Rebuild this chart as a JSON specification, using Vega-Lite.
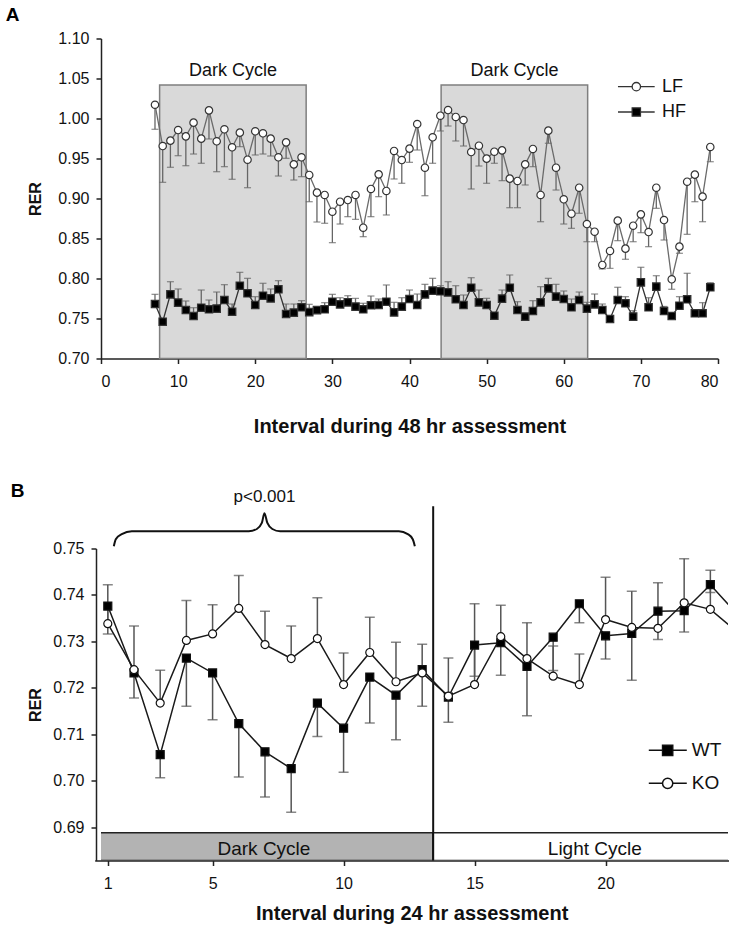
{
 "$schema": "https://vega.github.io/schema/vega-lite/v6.json",
 "background": "white",
 "padding": {"left": 5, "top": 5.5, "right": 0, "bottom": 5},
 "spacing": 45,
 "resolve": {"scale": {"fill": "independent", "shape": "independent", "color": "independent", "x": "independent", "y": "independent"}},
 "config": {
  "view": {"stroke": null},
  "font": "Liberation Sans",
  "axis": {"grid": false, "domainColor": "#222", "domainWidth": 1.5, "tickColor": "#222", "tickWidth": 1.5, "tickSize": 5, "labelFont": "Liberation Sans", "labelFontSize": 16, "labelColor": "#111", "labelPadding": 7, "titleFont": "Liberation Sans", "titleFontSize": 16, "titleFontWeight": "bold", "titleColor": "#111"},
  "axisX": {"labelPadding": 10, "titleFontSize": 20}
 },
 "datasets": {
  "Abox": [
   {"start": 7.6, "end": 26.6, "mid": 17.1, "bottom": 0.7, "top": 1.042, "label": "Dark Cycle"},
   {"start": 44.1, "end": 63.1, "mid": 53.6, "bottom": 0.7, "top": 1.042, "label": "Dark Cycle"}
  ],
  "A": [
   {"i":7,"series":"LF","rer":1.0172,"err":0.9865},{"i":8,"series":"LF","rer":0.9656,"err":0.9202},{"i":9,"series":"LF","rer":0.9723,"err":0.939},{"i":10,"series":"LF","rer":0.9856,"err":0.9535},{"i":11,"series":"LF","rer":0.9777,"err":0.941},{"i":12,"series":"LF","rer":0.9948,"err":0.9556},{"i":13,"series":"LF","rer":0.9748,"err":0.944},{"i":14,"series":"LF","rer":1.0102,"err":0.9744},{"i":15,"series":"LF","rer":0.9715,"err":0.9335},{"i":16,"series":"LF","rer":0.9865,"err":0.9398},{"i":17,"series":"LF","rer":0.964,"err":0.924},{"i":18,"series":"LF","rer":0.9823,"err":0.9648},{"i":19,"series":"LF","rer":0.9485,"err":0.9135},{"i":20,"series":"LF","rer":0.984,"err":0.9544},{"i":21,"series":"LF","rer":0.9815,"err":0.9556},{"i":22,"series":"LF","rer":0.9748,"err":0.9531},{"i":23,"series":"LF","rer":0.9515,"err":0.9281},{"i":24,"series":"LF","rer":0.9702,"err":0.9502},{"i":25,"series":"LF","rer":0.9427,"err":0.9231},{"i":26,"series":"LF","rer":0.9515,"err":0.9273},{"i":27,"series":"LF","rer":0.9294,"err":0.896},{"i":28,"series":"LF","rer":0.9073,"err":0.8706},{"i":29,"series":"LF","rer":0.9044,"err":0.869},{"i":30,"series":"LF","rer":0.8835,"err":0.8448},{"i":31,"series":"LF","rer":0.896,"err":0.8681},{"i":32,"series":"LF","rer":0.8981,"err":0.8773},{"i":33,"series":"LF","rer":0.9044,"err":0.874},{"i":34,"series":"LF","rer":0.8635,"err":0.8523},{"i":35,"series":"LF","rer":0.9119,"err":0.8773},{"i":36,"series":"LF","rer":0.9302,"err":0.9023},{"i":37,"series":"LF","rer":0.9094,"err":0.8794},{"i":38,"series":"LF","rer":0.9594,"err":0.9244},{"i":39,"series":"LF","rer":0.9481,"err":0.919},{"i":40,"series":"LF","rer":0.9623,"err":0.9452},{"i":41,"series":"LF","rer":0.9931,"err":0.9606},{"i":42,"series":"LF","rer":0.9385,"err":0.9035},{"i":43,"series":"LF","rer":0.9765,"err":0.944},{"i":44,"series":"LF","rer":1.0035,"err":0.9844},{"i":45,"series":"LF","rer":1.0106,"err":0.9906},{"i":46,"series":"LF","rer":1.0019,"err":0.9719},{"i":47,"series":"LF","rer":0.9981,"err":0.9656},{"i":48,"series":"LF","rer":0.9581,"err":0.9119},{"i":49,"series":"LF","rer":0.966,"err":0.9406},{"i":50,"series":"LF","rer":0.9498,"err":0.919},{"i":51,"series":"LF","rer":0.9585,"err":0.944},{"i":52,"series":"LF","rer":0.9602,"err":0.9223},{"i":53,"series":"LF","rer":0.9248,"err":0.8885},{"i":54,"series":"LF","rer":0.9219,"err":0.8885},{"i":55,"series":"LF","rer":0.9427,"err":0.9169},{"i":56,"series":"LF","rer":0.9619,"err":0.9398},{"i":57,"series":"LF","rer":0.9044,"err":0.871},{"i":58,"series":"LF","rer":0.9848,"err":0.969},{"i":59,"series":"LF","rer":0.9385,"err":0.9106},{"i":60,"series":"LF","rer":0.899,"err":0.8681},{"i":61,"series":"LF","rer":0.881,"err":0.8627},{"i":62,"series":"LF","rer":0.9135,"err":0.8815},{"i":63,"series":"LF","rer":0.8681,"err":0.846},{"i":64,"series":"LF","rer":0.8585,"err":0.846},{"i":65,"series":"LF","rer":0.8169,"err":0.812},{"i":66,"series":"LF","rer":0.8344,"err":0.8127},{"i":67,"series":"LF","rer":0.8723,"err":0.8473},{"i":68,"series":"LF","rer":0.8373,"err":0.824},{"i":69,"series":"LF","rer":0.866,"err":0.846},{"i":70,"series":"LF","rer":0.8802,"err":0.8573},{"i":71,"series":"LF","rer":0.8581,"err":0.8398},{"i":72,"series":"LF","rer":0.9135,"err":0.8877},{"i":73,"series":"LF","rer":0.8731,"err":0.8481},{"i":74,"series":"LF","rer":0.799,"err":0.7865},{"i":75,"series":"LF","rer":0.8398,"err":0.8315},{"i":76,"series":"LF","rer":0.921,"err":0.8552},{"i":77,"series":"LF","rer":0.9298,"err":0.896},{"i":78,"series":"LF","rer":0.9023,"err":0.871},{"i":79,"series":"LF","rer":0.9644,"err":0.946},
   {"i":7,"series":"HF","rer":0.7681,"err":0.7802},{"i":8,"series":"HF","rer":0.746,"err":0.748},{"i":9,"series":"HF","rer":0.7802,"err":0.796},{"i":10,"series":"HF","rer":0.7698,"err":0.7869},{"i":11,"series":"HF","rer":0.7606,"err":0.7719},{"i":12,"series":"HF","rer":0.7531,"err":0.7635},{"i":13,"series":"HF","rer":0.7635,"err":0.7856},{"i":14,"series":"HF","rer":0.7615,"err":0.7731},{"i":15,"series":"HF","rer":0.7623,"err":0.7831},{"i":16,"series":"HF","rer":0.7731,"err":0.7923},{"i":17,"series":"HF","rer":0.7585,"err":0.7681},{"i":18,"series":"HF","rer":0.791,"err":0.8077},{"i":19,"series":"HF","rer":0.7815,"err":0.8002},{"i":20,"series":"HF","rer":0.7669,"err":0.7773},{"i":21,"series":"HF","rer":0.7785,"err":0.794},{"i":22,"series":"HF","rer":0.7752,"err":0.7869},{"i":23,"series":"HF","rer":0.7865,"err":0.7973},{"i":24,"series":"HF","rer":0.7556,"err":0.7681},{"i":25,"series":"HF","rer":0.7573,"err":0.7681},{"i":26,"series":"HF","rer":0.764,"err":0.7723},{"i":27,"series":"HF","rer":0.7579,"err":0.7677},{"i":28,"series":"HF","rer":0.7604,"err":0.762},{"i":29,"series":"HF","rer":0.7615,"err":0.7698},{"i":30,"series":"HF","rer":0.771,"err":0.7802},{"i":31,"series":"HF","rer":0.7677,"err":0.776},{"i":32,"series":"HF","rer":0.7702,"err":0.7785},{"i":33,"series":"HF","rer":0.7648,"err":0.7752},{"i":34,"series":"HF","rer":0.7615,"err":0.769},{"i":35,"series":"HF","rer":0.7665,"err":0.7781},{"i":36,"series":"HF","rer":0.7669,"err":0.7744},{"i":37,"series":"HF","rer":0.771,"err":0.7919},{"i":38,"series":"HF","rer":0.7577,"err":0.7702},{"i":39,"series":"HF","rer":0.7648,"err":0.776},{"i":40,"series":"HF","rer":0.7744,"err":0.7856},{"i":41,"series":"HF","rer":0.7669,"err":0.7806},{"i":42,"series":"HF","rer":0.7802,"err":0.7927},{"i":43,"series":"HF","rer":0.7848,"err":0.8002},{"i":44,"series":"HF","rer":0.784,"err":0.791},{"i":45,"series":"HF","rer":0.7827,"err":0.796},{"i":46,"series":"HF","rer":0.774,"err":0.791},{"i":47,"series":"HF","rer":0.7669,"err":0.7794},{"i":48,"series":"HF","rer":0.7885,"err":0.801},{"i":49,"series":"HF","rer":0.7702,"err":0.7856},{"i":50,"series":"HF","rer":0.7669,"err":0.7752},{"i":51,"series":"HF","rer":0.7535,"err":0.756},{"i":52,"series":"HF","rer":0.7748,"err":0.7856},{"i":53,"series":"HF","rer":0.7885,"err":0.8044},{"i":54,"series":"HF","rer":0.7606,"err":0.771},{"i":55,"series":"HF","rer":0.7523,"err":0.7545},{"i":56,"series":"HF","rer":0.7594,"err":0.7723},{"i":57,"series":"HF","rer":0.7702,"err":0.7898},{"i":58,"series":"HF","rer":0.7877,"err":0.8002},{"i":59,"series":"HF","rer":0.7773,"err":0.7927},{"i":60,"series":"HF","rer":0.7744,"err":0.7844},{"i":61,"series":"HF","rer":0.764,"err":0.7744},{"i":62,"series":"HF","rer":0.7731,"err":0.7831},{"i":63,"series":"HF","rer":0.7623,"err":0.7702},{"i":64,"series":"HF","rer":0.7677,"err":0.7806},{"i":65,"series":"HF","rer":0.7606,"err":0.7681},{"i":66,"series":"HF","rer":0.7494,"err":0.752},{"i":67,"series":"HF","rer":0.7731,"err":0.789},{"i":68,"series":"HF","rer":0.769,"err":0.7773},{"i":69,"series":"HF","rer":0.7523,"err":0.7598},{"i":70,"series":"HF","rer":0.7952,"err":0.814},{"i":71,"series":"HF","rer":0.764,"err":0.776},{"i":72,"series":"HF","rer":0.7898,"err":0.8035},{"i":73,"series":"HF","rer":0.7594,"err":0.765},{"i":74,"series":"HF","rer":0.7531,"err":0.756},{"i":75,"series":"HF","rer":0.766,"err":0.7773},{"i":76,"series":"HF","rer":0.774,"err":0.8065},{"i":77,"series":"HF","rer":0.7565,"err":0.759},{"i":78,"series":"HF","rer":0.7565,"err":0.7698},{"i":79,"series":"HF","rer":0.789,"err":0.7948}
  ],
  "Bcyc": [
   {"start": 0.5, "end": 13.42, "mid": 6.96, "bottom": 0.6828, "top": 0.6888, "label": "Dark Cycle"},
   {"start": 13.42, "end": 25.76, "mid": 19.59, "bottom": 0.6828, "top": 0.6888, "label": "Light Cycle"}
  ],
  "brace": [
   {"k":1,"x":1.229,"y":0.7505},{"k":2,"x":1.305,"y":0.752},{"k":3,"x":1.534,"y":0.7531},{"k":4,"x":1.916,"y":0.7537},{"k":5,"x":6.38,"y":0.7537},{"k":6,"x":6.69,"y":0.7542},{"k":7,"x":6.88,"y":0.7555},{"k":8,"x":6.98,"y":0.7576},{"k":9,"x":7.09,"y":0.7555},{"k":10,"x":7.28,"y":0.7542},{"k":11,"x":7.58,"y":0.7537},{"k":12,"x":12.11,"y":0.7537},{"k":13,"x":12.45,"y":0.7531},{"k":14,"x":12.64,"y":0.752},{"k":15,"x":12.72,"y":0.7505}
  ],
  "B": [
   {"i":1,"series":"WT","rer":0.7376,"err":0.7316},{"i":2,"series":"WT","rer":0.7232,"err":0.7178},{"i":3,"series":"WT","rer":0.7056,"err":0.7006},{"i":4,"series":"WT","rer":0.7264,"err":0.716},{"i":5,"series":"WT","rer":0.7232,"err":0.7131},{"i":6,"series":"WT","rer":0.7123,"err":0.7008},{"i":7,"series":"WT","rer":0.7062,"err":0.6965},{"i":8,"series":"WT","rer":0.7026,"err":0.6932},{"i":9,"series":"WT","rer":0.7167,"err":0.7095},{"i":10,"series":"WT","rer":0.7113,"err":0.7018},{"i":11,"series":"WT","rer":0.7223,"err":0.7124},{"i":12,"series":"WT","rer":0.7184,"err":0.7088},{"i":13,"series":"WT","rer":0.7239,"err":0.716},{"i":14,"series":"WT","rer":0.718,"err":0.7126},{"i":15,"series":"WT","rer":0.7292,"err":0.7225},{"i":16,"series":"WT","rer":0.7297,"err":0.7227},{"i":17,"series":"WT","rer":0.7246,"err":0.714},{"i":18,"series":"WT","rer":0.7309,"err":0.7237},{"i":19,"series":"WT","rer":0.7381,"err":0.734},{"i":20,"series":"WT","rer":0.7312,"err":0.7262},{"i":21,"series":"WT","rer":0.7317,"err":0.7216},{"i":22,"series":"WT","rer":0.7365,"err":0.7304},{"i":23,"series":"WT","rer":0.7366,"err":0.732},{"i":24,"series":"WT","rer":0.7422,"err":0.7405},{"i":25,"series":"WT","rer":0.736,"err":0.736},
   {"i":1,"series":"KO","rer":0.7338,"err":0.7422},{"i":2,"series":"KO","rer":0.7239,"err":0.7333},{"i":3,"series":"KO","rer":0.7167,"err":0.7238},{"i":4,"series":"KO","rer":0.7302,"err":0.7388},{"i":5,"series":"KO","rer":0.7316,"err":0.7379},{"i":6,"series":"KO","rer":0.7371,"err":0.7442},{"i":7,"series":"KO","rer":0.7293,"err":0.7365},{"i":8,"series":"KO","rer":0.7263,"err":0.7333},{"i":9,"series":"KO","rer":0.7306,"err":0.7394},{"i":10,"series":"KO","rer":0.7207,"err":0.7275},{"i":11,"series":"KO","rer":0.7276,"err":0.7352},{"i":12,"series":"KO","rer":0.7213,"err":0.7298},{"i":13,"series":"KO","rer":0.7232,"err":0.7294},{"i":14,"series":"KO","rer":0.7182,"err":0.7264},{"i":15,"series":"KO","rer":0.7207,"err":0.7381},{"i":16,"series":"KO","rer":0.731,"err":0.7378},{"i":17,"series":"KO","rer":0.7263,"err":0.734},{"i":18,"series":"KO","rer":0.7225,"err":0.729},{"i":19,"series":"KO","rer":0.7207,"err":0.7273},{"i":20,"series":"KO","rer":0.7347,"err":0.7438},{"i":21,"series":"KO","rer":0.733,"err":0.7408},{"i":22,"series":"KO","rer":0.7328,"err":0.7426},{"i":23,"series":"KO","rer":0.7383,"err":0.7478},{"i":24,"series":"KO","rer":0.7369,"err":0.7453},{"i":25,"series":"KO","rer":0.7321,"err":0.7321}
  ],
  "legLF": [{"series": "LF"}],
  "legHF": [{"series": "HF"}],
  "legWT": [{"series": "WT"}],
  "legKO": [{"series": "KO"}]
 },
 "vconcat": [
  {
   "title": {"text": "A", "anchor": "start", "frame": "bounds", "fontSize": 19, "fontWeight": "bold", "dx": -22, "offset": 6, "color": "#000"},
   "width": 617,
   "height": 320,
   "encoding": {
    "x": {"type": "quantitative", "scale": {"domain": [0, 80], "nice": false}, "axis": {"values": [0,10,20,30,40,50,60,70,80], "title": "Interval during 48 hr assessment", "titlePadding": 27}},
    "y": {"type": "quantitative", "scale": {"domain": [0.7, 1.1], "nice": false, "zero": false}, "axis": {"values": [0.7,0.75,0.8,0.85,0.9,0.95,1.0,1.05,1.1], "format": ".2f", "title": "RER", "titlePadding": 14}}
   },
   "layer": [
    {"data": {"name": "Abox"}, "mark": {"type": "rect", "fill": "#d9d9d9", "stroke": "#7f7f7f", "strokeWidth": 1.5},
     "encoding": {"x": {"field": "start"}, "x2": {"field": "end"}, "y": {"field": "bottom"}, "y2": {"field": "top"}}},
    {"data": {"name": "Abox"}, "mark": {"type": "text", "fontSize": 18, "dy": -9, "baseline": "alphabetic", "color": "#111"},
     "encoding": {"x": {"field": "mid"}, "y": {"field": "top"}, "text": {"field": "label"}}},
    {"data": {"name": "A"}, "mark": {"type": "rule", "stroke": "#666", "strokeWidth": 1.3},
     "encoding": {"x": {"field": "i"}, "y": {"field": "rer"}, "y2": {"field": "err"}}},
    {"data": {"name": "A"}, "mark": {"type": "tick", "orient": "horizontal", "size": 7, "thickness": 1.3, "color": "#666"},
     "encoding": {"x": {"field": "i"}, "y": {"field": "err"}}},
    {"data": {"name": "A"}, "mark": {"type": "line", "strokeWidth": 1.3},
     "encoding": {"x": {"field": "i"}, "y": {"field": "rer"}, "color": {"field": "series", "type": "nominal", "scale": {"domain": ["LF", "HF"], "range": ["#6a6a6a", "#333333"]}, "legend": null}}},
    {"data": {"name": "A"}, "mark": {"type": "point", "filled": true, "opacity": 1, "stroke": "#333", "strokeWidth": 1.2, "size": 55},
     "encoding": {"x": {"field": "i"}, "y": {"field": "rer"},
      "shape": {"field": "series", "type": "nominal", "scale": {"domain": ["LF", "HF"], "range": ["circle", "square"]}, "legend": null},
      "fill": {"field": "series", "type": "nominal", "scale": {"domain": ["LF", "HF"], "range": ["white", "black"]}, "legend": null}}},
    {"data": {"name": "legLF"}, "mark": {"type": "rule", "stroke": "#333", "strokeWidth": 1.3}, "encoding": {"x": {"datum": 67.03}, "x2": {"datum": 71.79}, "y": {"datum": 1.0398}}},
    {"data": {"name": "legLF"}, "mark": {"type": "point", "shape": "circle", "filled": true, "fill": "white", "stroke": "#333", "strokeWidth": 1.3, "size": 70, "opacity": 1}, "encoding": {"x": {"datum": 69.41}, "y": {"datum": 1.0398}}},
    {"data": {"name": "legLF"}, "mark": {"type": "text", "align": "left", "baseline": "middle", "fontSize": 18, "color": "#111"}, "encoding": {"x": {"datum": 72.75}, "y": {"datum": 1.0398}, "text": {"field": "series"}}},
    {"data": {"name": "legHF"}, "mark": {"type": "rule", "stroke": "#333", "strokeWidth": 1.3}, "encoding": {"x": {"datum": 67.03}, "x2": {"datum": 71.79}, "y": {"datum": 1.0081}}},
    {"data": {"name": "legHF"}, "mark": {"type": "point", "shape": "square", "filled": true, "fill": "black", "stroke": "#333", "strokeWidth": 1.2, "size": 70, "opacity": 1}, "encoding": {"x": {"datum": 69.41}, "y": {"datum": 1.0081}}},
    {"data": {"name": "legHF"}, "mark": {"type": "text", "align": "left", "baseline": "middle", "fontSize": 18, "color": "#111"}, "encoding": {"x": {"datum": 72.75}, "y": {"datum": 1.0081}, "text": {"field": "series"}}}
   ]
  },
  {
   "title": {"text": "B", "anchor": "start", "frame": "bounds", "fontSize": 19, "fontWeight": "bold", "dx": -17, "offset": 6, "dy": 19, "color": "#000"},
   "width": 627,
   "height": 312,
   "encoding": {
    "x": {"type": "quantitative", "scale": {"domain": [0.5, 24.7], "range": [-6.3, 627.7], "nice": false, "zero": false}, "axis": {"values": [1,5,10,15,20], "title": "Interval during 24 hr assessment", "titlePadding": 12}},
    "y": {"type": "quantitative", "scale": {"domain": [0.6828, 0.75], "nice": false, "zero": false}, "axis": {"values": [0.69,0.7,0.71,0.72,0.73,0.74,0.75], "format": ".2f", "title": "RER", "titlePadding": 9, "offset": 5}}
   },
   "layer": [
    {"data": {"name": "Bcyc"}, "mark": {"type": "rect", "stroke": "#222", "strokeWidth": 1.5, "clip": true},
     "encoding": {"x": {"field": "start"}, "x2": {"field": "end"}, "y": {"field": "bottom"}, "y2": {"field": "top"},
      "color": {"field": "label", "type": "nominal", "scale": {"domain": ["Dark Cycle", "Light Cycle"], "range": ["#b3b3b3", "#ffffff"]}, "legend": null}}},
    {"data": {"name": "Bcyc"}, "mark": {"type": "text", "fontSize": 19, "dy": -6, "baseline": "alphabetic", "color": "#111"},
     "encoding": {"x": {"field": "mid"}, "y": {"field": "bottom"}, "text": {"field": "label"}}},
    {"data": {"name": "Bcyc"}, "transform": [{"filter": "datum.label === 'Dark Cycle'"}], "mark": {"type": "rule", "stroke": "#111", "strokeWidth": 2},
     "encoding": {"x": {"field": "end"}, "y": {"datum": 0.6828}, "y2": {"datum": 0.7591}}},
    {"data": {"name": "brace"}, "mark": {"type": "line", "interpolate": "monotone", "stroke": "#111", "strokeWidth": 2},
     "encoding": {"x": {"field": "x"}, "y": {"field": "y"}, "order": {"field": "k"}}},
    {"data": {"name": "Bcyc"}, "transform": [{"filter": "datum.label === 'Dark Cycle'"}], "mark": {"type": "text", "fontSize": 17, "baseline": "alphabetic", "color": "#111"},
     "encoding": {"x": {"datum": 6.98}, "y": {"datum": 0.76}, "text": {"value": "p<0.001"}}},
    {"data": {"name": "B"}, "mark": {"type": "rule", "stroke": "#555", "strokeWidth": 1.5, "clip": true},
     "encoding": {"x": {"field": "i"}, "y": {"field": "rer"}, "y2": {"field": "err"}}},
    {"data": {"name": "B"}, "mark": {"type": "tick", "orient": "horizontal", "size": 10, "thickness": 1.5, "color": "#555", "clip": true},
     "encoding": {"x": {"field": "i"}, "y": {"field": "err"}}},
    {"data": {"name": "B"}, "mark": {"type": "line", "strokeWidth": 1.5, "stroke": "#1a1a1a", "clip": true},
     "encoding": {"x": {"field": "i"}, "y": {"field": "rer"}, "detail": {"field": "series"}}},
    {"data": {"name": "B"}, "mark": {"type": "point", "filled": true, "opacity": 1, "stroke": "#111", "strokeWidth": 1.2, "size": 64, "clip": true},
     "encoding": {"x": {"field": "i"}, "y": {"field": "rer"},
      "shape": {"field": "series", "type": "nominal", "scale": {"domain": ["WT", "KO"], "range": ["square", "circle"]}, "legend": null},
      "fill": {"field": "series", "type": "nominal", "scale": {"domain": ["WT", "KO"], "range": ["black", "white"]}, "legend": null}}},
    {"data": {"name": "legWT"}, "mark": {"type": "rule", "stroke": "#111", "strokeWidth": 1.5}, "encoding": {"x": {"datum": 21.65}, "x2": {"datum": 23.1}, "y": {"datum": 0.70653}}},
    {"data": {"name": "legWT"}, "mark": {"type": "point", "shape": "square", "filled": true, "fill": "black", "stroke": "#111", "strokeWidth": 1.2, "size": 110, "opacity": 1}, "encoding": {"x": {"datum": 22.37}, "y": {"datum": 0.70653}}},
    {"data": {"name": "legWT"}, "mark": {"type": "text", "align": "left", "baseline": "middle", "fontSize": 19, "color": "#111"}, "encoding": {"x": {"datum": 23.29}, "y": {"datum": 0.70653}, "text": {"field": "series"}}},
    {"data": {"name": "legKO"}, "mark": {"type": "rule", "stroke": "#111", "strokeWidth": 1.5}, "encoding": {"x": {"datum": 21.65}, "x2": {"datum": 23.1}, "y": {"datum": 0.69942}}},
    {"data": {"name": "legKO"}, "mark": {"type": "point", "shape": "circle", "filled": true, "fill": "white", "stroke": "#111", "strokeWidth": 1.5, "size": 105, "opacity": 1}, "encoding": {"x": {"datum": 22.37}, "y": {"datum": 0.69942}}},
    {"data": {"name": "legKO"}, "mark": {"type": "text", "align": "left", "baseline": "middle", "fontSize": 19, "color": "#111"}, "encoding": {"x": {"datum": 23.29}, "y": {"datum": 0.69942}, "text": {"field": "series"}}}
   ]
  }
 ]
}
